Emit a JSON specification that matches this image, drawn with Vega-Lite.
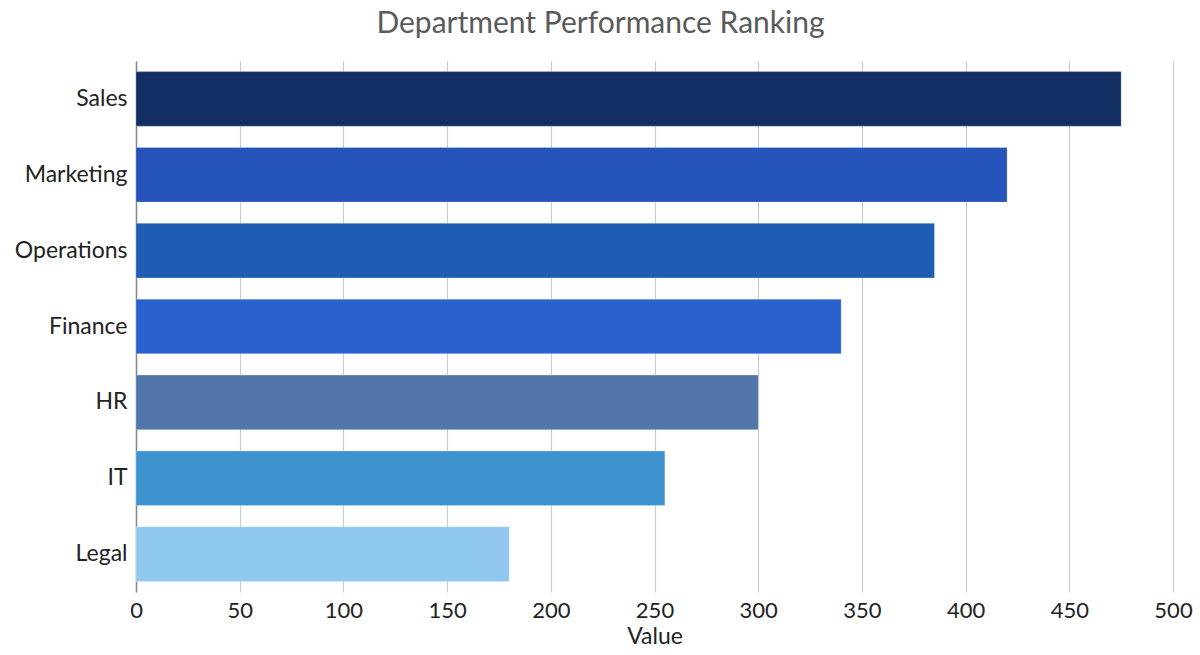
{
  "$schema": "https://vega.github.io/schema/vega-lite/v6.json",
  "autosize": {"type": "none"},
  "width": 1037,
  "height": 531,
  "padding": {"left": 136, "top": 61, "right": 27, "bottom": 63},
  "background": "white",
  "title": {
    "text": "Department Performance Ranking",
    "font": "Lato",
    "fontSize": 30,
    "fontWeight": "normal",
    "color": "#5a5a5a",
    "anchor": "middle",
    "frame": "group",
    "dx": -54,
    "offset": 22
  },
  "data": {
    "values": [
      {"Department": "Sales", "Value": 475},
      {"Department": "Marketing", "Value": 420},
      {"Department": "Operations", "Value": 385},
      {"Department": "Finance", "Value": 340},
      {"Department": "HR", "Value": 300},
      {"Department": "IT", "Value": 255},
      {"Department": "Legal", "Value": 180}
    ]
  },
  "mark": {"type": "bar", "stroke": "#ffffff", "strokeOpacity": 0.25, "strokeWidth": 1},
  "encoding": {
    "y": {
      "field": "Department",
      "type": "nominal",
      "sort": null,
      "scale": {"paddingInner": 0.28, "paddingOuter": 0.14},
      "axis": {
        "title": null,
        "ticks": false,
        "grid": false,
        "domain": true,
        "domainColor": "#888888",
        "domainWidth": 1.5,
        "labelFont": "Lato",
        "labelFontSize": 23,
        "labelColor": "#222222",
        "labelPadding": 9
      }
    },
    "x": {
      "field": "Value",
      "type": "quantitative",
      "scale": {"domain": [0, 500], "nice": false},
      "axis": {
        "values": [0, 50, 100, 150, 200, 250, 300, 350, 400, 450, 500],
        "title": "Value",
        "titleFont": "Lato",
        "titleFontSize": 23,
        "titleFontWeight": "normal",
        "titleColor": "#222222",
        "titlePadding": 4,
        "ticks": false,
        "domain": false,
        "grid": true,
        "gridColor": "#cccccc",
        "gridWidth": 1.2,
        "labelFont": "Lato",
        "labelFontSize": 22,
        "labelColor": "#222222",
        "labelPadding": 8,
        "labelFlush": false
      }
    },
    "color": {
      "field": "Department",
      "type": "nominal",
      "legend": null,
      "scale": {
        "domain": ["Sales", "Marketing", "Operations", "Finance", "HR", "IT", "Legal"],
        "range": ["#132e63", "#2553b9", "#1f5db3", "#2b61cf", "#5275aa", "#3f92d0", "#90c7ee"]
      }
    }
  },
  "config": {"view": {"stroke": null}}
}
